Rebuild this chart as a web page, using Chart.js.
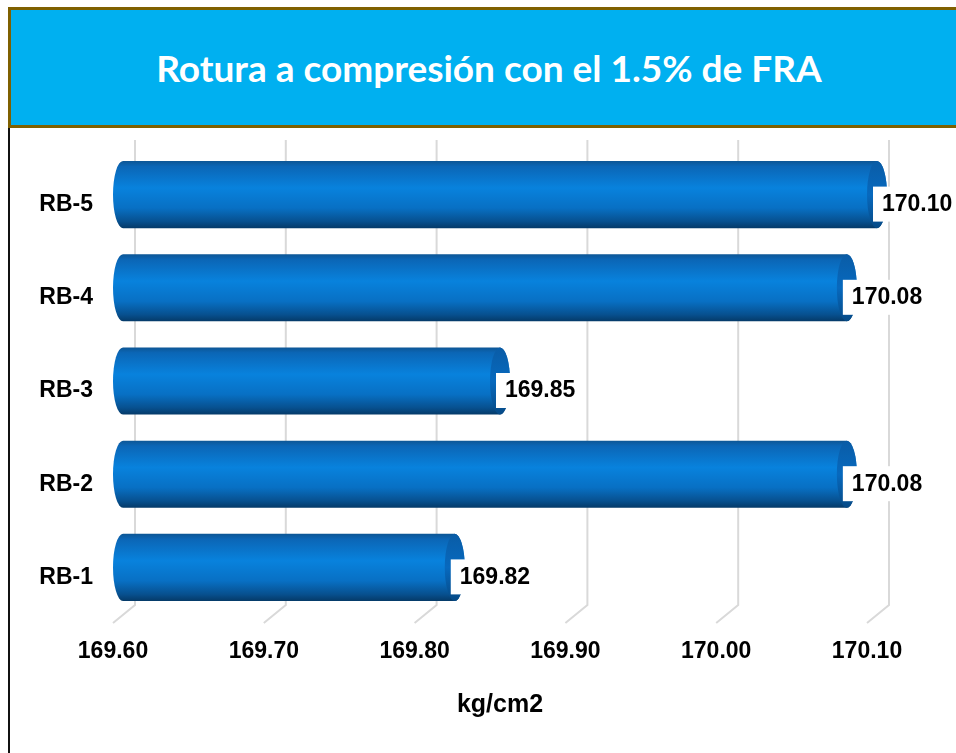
<!DOCTYPE html>
<html>
<head>
<meta charset="utf-8">
<script src="https://cdn.jsdelivr.net/npm/chart.js@4.4.1/dist/chart.umd.min.js"></script>
<style>
  html, body { margin: 0; padding: 0; background: #fff; overflow: hidden; }
  #wrap { position: relative; width: 956px; height: 753px; }
  #chart { position: absolute; left: 0; top: 0; }
  #titleBar {
    position: absolute; left: 8px; top: 7px; width: 956px; height: 115px;
    background: #00B0F0; border: 3px solid #7F6000; border-right: none;
    color: #fff; font: bold 37px Lato, "Open Sans", sans-serif;
    display: flex; align-items: center; justify-content: center;
  }
  #leftLine { position: absolute; left: 8px; top: 128px; width: 2px; height: 625px; background: #111; }
</style>
</head>
<body>
<div id="wrap">
  <canvas id="chart" width="956" height="753"></canvas>
  <div id="titleBar">Rotura a compresión con el 1.5% de FRA</div>
  <div id="leftLine"></div>
</div>
<script>
// datos del gráfico
const categories = ['RB-5', 'RB-4', 'RB-3', 'RB-2', 'RB-1'];
const values = [170.10, 170.08, 169.85, 170.08, 169.82];
const axisMin = 169.60;
const axisMax = 170.10;
const axisStep = 0.10;
const axisTitle = 'kg/cm2';

const FONT = '"Liberation Sans", Arial, sans-serif';
const CAP = 10; // media anchura de la tapa del cilindro

// rejilla con perspectiva (pared del fondo + suelo)
const perspectiveGrid = {
  id: 'perspectiveGrid',
  beforeDraw(chart) {
    const ctx = chart.ctx;
    const xs = chart.scales.x;
    ctx.save();
    ctx.strokeStyle = '#D9D9D9';
    ctx.lineWidth = 2;
    xs.ticks.forEach(t => {
      const px = xs.getPixelForValue(t.value);
      ctx.beginPath();
      ctx.moveTo(px + 12, 140);
      ctx.lineTo(px + 12, 605);
      ctx.lineTo(px - 10, 623);
      ctx.stroke();
    });
    ctx.restore();
  }
};

// barras cilíndricas y etiquetas de valor
const cylinders = {
  id: 'cylinders',
  afterDatasetsDraw(chart) {
    const ctx = chart.ctx;
    const meta = chart.getDatasetMeta(0);
    ctx.save();
    meta.data.forEach((bar, i) => {
      const x0 = bar.base, x1 = bar.x;
      const top = bar.y - bar.height / 2, h = bar.height, cy = bar.y;
      const g = ctx.createLinearGradient(0, top, 0, top + h);
      g.addColorStop(0, '#0D5695');
      g.addColorStop(0.08, '#0B66B6');
      g.addColorStop(0.4, '#0882DD');
      g.addColorStop(0.7, '#0870C4');
      g.addColorStop(0.9, '#07508F');
      g.addColorStop(1, '#053A68');
      ctx.fillStyle = g;
      ctx.beginPath();
      ctx.moveTo(x1, top);
      ctx.lineTo(x0, top);
      ctx.ellipse(x0, cy, CAP, h / 2, 0, -Math.PI / 2, Math.PI / 2, true);
      ctx.lineTo(x1, top + h);
      ctx.ellipse(x1, cy, CAP, h / 2, 0, Math.PI / 2, -Math.PI / 2, true);
      ctx.closePath();
      ctx.fill();
      // cara del extremo
      const f = ctx.createLinearGradient(0, top, 0, top + h);
      f.addColorStop(0, '#0A5CA6');
      f.addColorStop(0.5, '#0769BE');
      f.addColorStop(1, '#064A86');
      ctx.fillStyle = f;
      ctx.beginPath();
      ctx.ellipse(x1, cy, CAP, h / 2, 0, 0, Math.PI * 2);
      ctx.fill();

      // etiqueta
      const txt = values[i].toFixed(2);
      ctx.font = 'bold 23px ' + FONT;
      const w = ctx.measureText(txt).width;
      const bx = x1 - 4, by = cy + 9 - 17;
      ctx.fillStyle = '#fff';
      ctx.fillRect(bx, by, w + 18, 35);
      ctx.fillStyle = '#000';
      ctx.textBaseline = 'middle';
      ctx.textAlign = 'left';
      ctx.fillText(txt, bx + 9, cy + 10);
    });
    ctx.restore();
  }
};

new Chart(document.getElementById('chart'), {
  type: 'bar',
  data: {
    labels: categories,
    datasets: [{
      data: values,
      backgroundColor: 'rgba(0,0,0,0)',
      borderWidth: 0,
      barPercentage: 0.8,
      categoryPercentage: 0.9,
      base: axisMin
    }]
  },
  options: {
    indexAxis: 'y',
    responsive: false,
    animation: false,
    devicePixelRatio: 1,
    layout: { padding: { left: 0, top: 148, right: 79, bottom: 0 } },
    plugins: { legend: { display: false }, tooltip: { enabled: false } },
    scales: {
      x: {
        min: axisMin,
        max: axisMax,
        grid: { display: false, drawTicks: false },
        border: { display: false },
        afterFit(scale) { scale.height = 139; },
        ticks: {
          stepSize: axisStep,
          padding: 24,
          labelOffset: -10,
          color: '#000',
          font: { family: FONT, size: 23, weight: 'bold' },
          callback: v => Number(v).toFixed(2)
        },
        title: {
          display: true,
          text: axisTitle,
          color: '#000',
          font: { family: FONT, size: 25, weight: 'bold' },
          padding: { top: 0, bottom: 33 }
        }
      },
      y: {
        grid: { display: false, drawTicks: false },
        border: { display: false },
        afterFit(scale) { scale.width = 123; },
        ticks: {
          padding: 30,
          labelOffset: 10,
          color: '#000',
          font: { family: FONT, size: 23, weight: 'bold' }
        }
      }
    }
  },
  plugins: [perspectiveGrid, cylinders]
});
</script>
</body>
</html>
